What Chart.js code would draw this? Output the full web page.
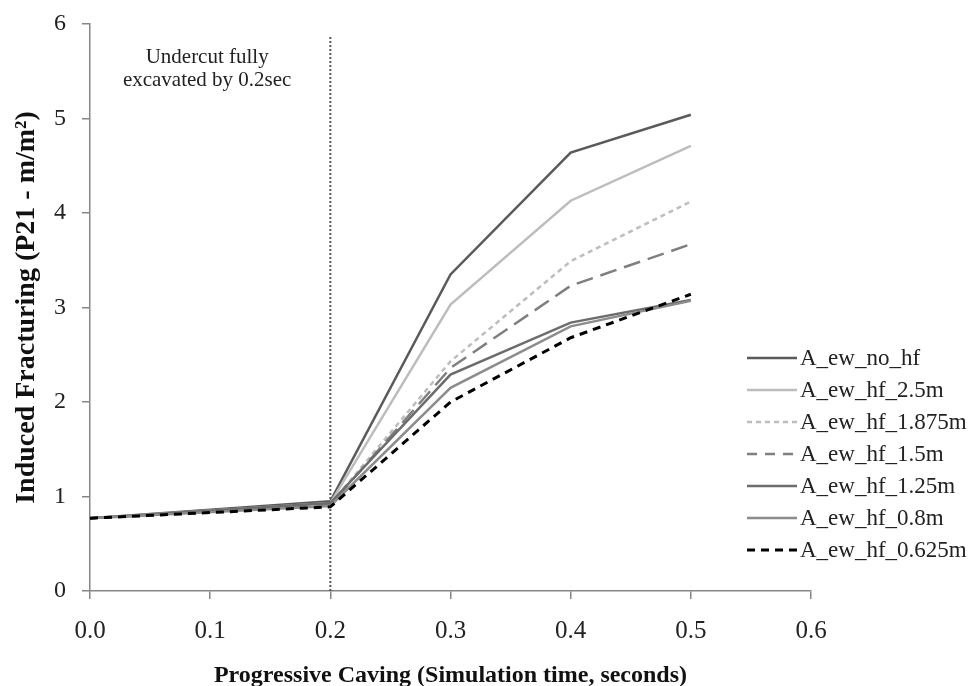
<!DOCTYPE html>
<html>
<head>
<meta charset="utf-8">
<script src="https://cdn.jsdelivr.net/npm/chart.js@4.4.0/dist/chart.umd.min.js"></script>
<style>
  html, body { margin: 0; padding: 0; background: #fff; }
  #wrap { position: relative; width: 971px; height: 686px; }
</style>
</head>
<body>
<div id="wrap"><canvas id="c" width="971" height="686"></canvas></div>
<script>
// simulation time (s)
const times = [0.0, 0.2, 0.3, 0.4, 0.5];

const seriesNames = ['A_ew_no_hf', 'A_ew_hf_2.5m', 'A_ew_hf_1.875m', 'A_ew_hf_1.5m',
                     'A_ew_hf_1.25m', 'A_ew_hf_0.8m', 'A_ew_hf_0.625m'];

const noHf    = [0.77, 0.95, 3.35, 4.64, 5.04];
const hf2_5   = [0.77, 0.93, 3.03, 4.13, 4.71];
const hf1_875 = [0.77, 0.92, 2.43, 3.49, 4.12];
const hf1_5   = [0.77, 0.91, 2.36, 3.23, 3.67];
const hf1_25  = [0.77, 0.93, 2.29, 2.84, 3.08];
const hf0_8   = [0.77, 0.90, 2.15, 2.80, 3.07];
const hf0_625 = [0.77, 0.89, 2.00, 2.68, 3.14];

// undercut marker (vertical dotted line)
const markerX = [0.2, 0.2];
const markerY = [0, 5.87];

const xTicks = [0, 0.1, 0.2, 0.3, 0.4, 0.5, 0.6];
const yTicks = [0, 1, 2, 3, 4, 5, 6];

const styles = [
  { color: '#5a5a5a', width: 2.5, dash: [] },
  { color: '#bdbdbd', width: 2.5, dash: [] },
  { color: '#bdbdbd', width: 2.5, dash: [5, 4] },
  { color: '#7f7f7f', width: 2.5, dash: [17, 8] },
  { color: '#6c6c6c', width: 2.5, dash: [] },
  { color: '#8c8c8c', width: 2.5, dash: [] },
  { color: '#000000', width: 3, dash: [8, 6] },
];

const allValues = [noHf, hf2_5, hf1_875, hf1_5, hf1_25, hf0_8, hf0_625];
const SERIF = '"Liberation Serif", "DejaVu Serif", serif';
const AXIS = '#868686';

const datasets = allValues.map((vals, i) => ({
  label: seriesNames[i],
  data: times.map((t, k) => ({ x: t, y: vals[k] })),
  borderColor: styles[i].color,
  borderWidth: styles[i].width,
  borderDash: styles[i].dash,
  pointRadius: 0,
  tension: 0,
  fill: false,
  order: allValues.length - 1 - i,
}));
datasets.push({
  label: '_marker',
  data: markerX.map((x, k) => ({ x, y: markerY[k] })),
  borderColor: '#555',
  borderWidth: 2,
  borderDash: [2, 2],
  pointRadius: 0,
  fill: false,
  order: 99,
});

// legend + annotation drawn on canvas
const extras = {
  id: 'extras',
  afterDraw(chart) {
    const ctx = chart.ctx;
    const xs = chart.scales.x, ys = chart.scales.y;
    ctx.save();
    ctx.fillStyle = '#222';
    ctx.font = '21px ' + SERIF;
    ctx.textAlign = 'center';
    ctx.textBaseline = 'middle';
    const cx = xs.getPixelForValue(0.0975);
    ctx.fillText('Undercut fully', cx, ys.getPixelForValue(5.65));
    ctx.fillText('excavated by 0.2sec', cx, ys.getPixelForValue(5.4));

    // legend
    ctx.textAlign = 'left';
    ctx.font = '23px ' + SERIF;
    seriesNames.forEach((name, i) => {
      const y = 358 + i * 32;
      ctx.beginPath();
      ctx.strokeStyle = styles[i].color;
      ctx.lineWidth = styles[i].width;
      ctx.setLineDash(styles[i].dash.length ? styles[i].dash.map(d => Math.min(d, 10)) : []);
      ctx.moveTo(747, y);
      ctx.lineTo(797, y);
      ctx.stroke();
      ctx.setLineDash([]);
      ctx.fillStyle = '#222';
      ctx.fillText(name, 800, y + 1);
    });
    ctx.restore();
  }
};

new Chart(document.getElementById('c'), {
  type: 'line',
  data: { datasets },
  plugins: [extras],
  options: {
    responsive: false,
    animation: false,
    layout: { padding: { left: 0, right: 160, top: 24, bottom: 0 } },
    plugins: { legend: { display: false }, tooltip: { enabled: false } },
    scales: {
      x: {
        type: 'linear',
        min: 0, max: 0.6,
        afterBuildTicks: s => { s.ticks = xTicks.map(v => ({ value: v })); },
        afterFit: s => { s.height = 95; s.paddingLeft = 0; s.paddingRight = 0; },
        grid: { display: true, drawOnChartArea: false, color: AXIS, tickLength: 8, lineWidth: 1.5 },
        border: { color: AXIS, width: 1.5 },
        ticks: { color: '#222', font: { family: SERIF, size: 25 }, padding: 17,
                 maxRotation: 0, callback: v => v.toFixed(1) },
        title: { display: true, text: 'Progressive Caving (Simulation time, seconds)',
                 color: '#111', font: { family: SERIF, size: 24, weight: 'bold' },
                 padding: { top: 0, bottom: -4 } },
      },
      y: {
        min: 0, max: 6,
        afterBuildTicks: s => { s.ticks = yTicks.map(v => ({ value: v })); },
        afterFit: s => { s.width = 90; s.paddingTop = 0; s.paddingBottom = 0; },
        grid: { display: true, drawOnChartArea: false, color: AXIS, tickLength: 8, lineWidth: 1.5 },
        border: { color: AXIS, width: 1.5 },
        ticks: { color: '#222', font: { family: SERIF, size: 24 }, padding: 16 },
        title: { display: true, text: 'Induced Fracturing (P21 - m/m²)',
                 color: '#111', font: { family: SERIF, size: 28, weight: 'bold' },
                 padding: { top: 10, bottom: 10 } },
      },
    },
  },
});
</script>
</body>
</html>
